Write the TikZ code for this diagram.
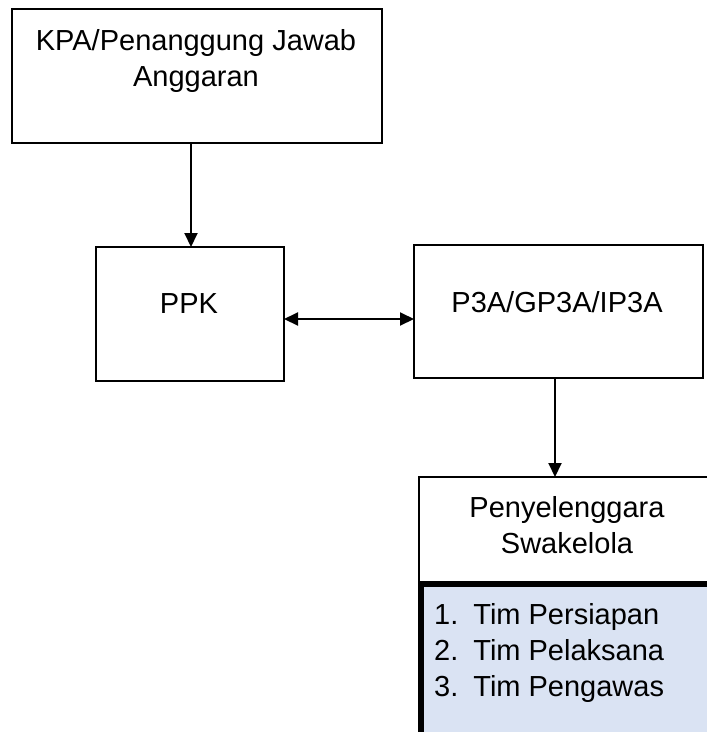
\documentclass[tikz,border=0pt]{standalone}
\usepackage{fontspec}
\setmainfont{Liberation Sans}
\usetikzlibrary{arrows.meta}
\definecolor{panelblue}{HTML}{DAE3F3}
\begin{document}
\begin{tikzpicture}[x=1pt,y=-1pt,
  box/.style={draw=black, line width=2pt, fill=white, rectangle, inner sep=0pt, outer sep=0pt},
  lbl/.style={inner sep=0pt, anchor=base, font=\fontsize{29}{36}\selectfont},
  link/.style={line width=2pt, -{Triangle[length=14pt,width=13pt]}},
  both/.style={line width=2pt, {Triangle[length=14pt,width=13pt]}-{Triangle[length=14pt,width=13pt]}}]
  \clip (0,0) rectangle (707,732);
  \fill[white] (0,0) rectangle (707,732);

  % boxes
  \node[box, minimum width=370pt, minimum height=134pt] (kpa) at (197,76) {};
  \node[box, minimum width=188pt, minimum height=134pt] (ppk) at (190,314) {};
  \node[box, minimum width=289pt, minimum height=133pt] (p3a) at (558.5,311.5) {};
  \node[box, minimum width=301pt, minimum height=106pt] (peny) at (569.5,530) {};
  % team list panel
  \filldraw[fill=panelblue, draw=black, line width=6pt] (421,584) rectangle (740,760);

  % texts
  \node[lbl] (tkpa) at (196,50) {\begin{tabular}[t]{@{}c@{}}KPA/Penanggung Jawab\\Anggaran\end{tabular}};
  \node[lbl] (tppk) at (189,313) {PPK};
  \node[lbl] (tp3a) at (557,312) {P3A/GP3A/IP3A};
  \node[lbl] (tpeny) at (567,517) {\begin{tabular}[t]{@{}c@{}}Penyelenggara\\Swakelola\end{tabular}};
  \node[lbl, anchor=base west] (tlist) at (434,624) {\begin{tabular}[t]{@{}l@{\hspace{15pt}}l@{}}1.&Tim Persiapan\\2.&Tim Pelaksana\\3.&Tim Pengawas\end{tabular}};

  % connectors
  \draw[link] (kpa.south -| 191,0) -- (ppk.north -| 191,0);
  \draw[both] (ppk.east |- 0,319) -- (p3a.west |- 0,319);
  \draw[link] (p3a.south -| 555,0) -- (peny.north -| 555,0);
\end{tikzpicture}
\end{document}
